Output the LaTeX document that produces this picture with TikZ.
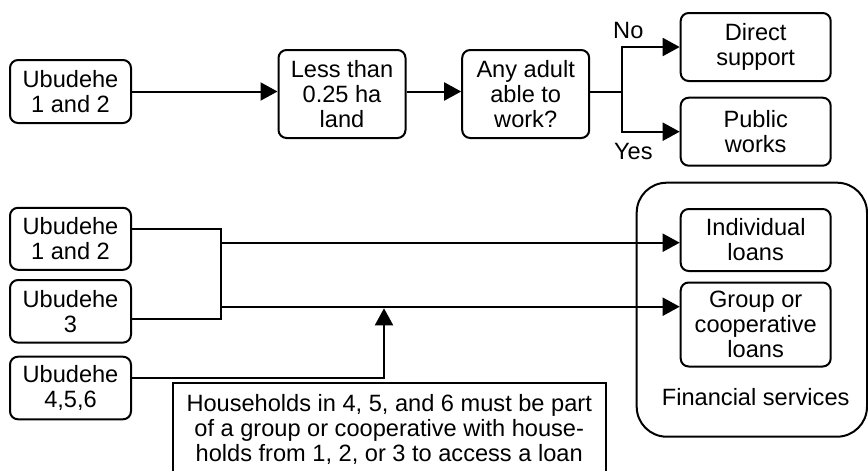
\documentclass[tikz,border=0pt]{standalone}
\usepackage{fontspec}
\setmainfont{Liberation Sans}
\usetikzlibrary{arrows.meta}

\tikzset{
  txt/.style={font=\fontsize{11.8}{12.5}\selectfont},
  box/.style={txt, draw, line width=1pt, rounded corners=4pt, align=center, inner sep=0pt},
  line/.style={line width=1pt},
  arr/.style={line, -{Triangle[length=8.5pt,width=9pt]}},
}

\begin{document}
\begin{tikzpicture}[x=0.5pt,y=-0.5pt]
        \useasboundingbox (0,0) rectangle (868,471);
        \clip (0,0) rectangle (868,471);

        % Draw top row
        \node[box, minimum width=60.5pt, minimum height=31.5pt] (ubA) at (70.5,91.5) {Ubudehe\\1 and 2};
        \node[box, minimum width=63.5pt, minimum height=44pt] (less) at (342,94) {Less than\\0.25 ha\\land};
        \node[box, minimum width=63.5pt, minimum height=44pt] (adult) at (525.7,94) {Any adult\\able to\\work?};
        \node[box, minimum width=75pt, minimum height=34pt] (direct) at (755.7,47) {Direct\\support};
        \node[box, minimum width=75pt, minimum height=34pt] (public) at (755.7,131.7) {Public\\works};
        \coordinate (split) at (621.7,91.5);

        % Draw top arrows
        \draw[arr] (ubA.east) -- (less.west |- ubA);
        \draw[arr] (less.east |- ubA) -- (adult.west |- ubA);
        \draw[line] (adult.east |- ubA) -- (split);
        \draw[arr] (split) |- (direct.west);
        \draw[arr] (split) |- (public.west);
        \node[txt] (no) at (628.3,30.7) {No};
        \node[txt] (yes) at (633.3,151.7) {Yes};

        % Draw financial services
        \node[draw, line width=1pt, rounded corners=15pt, minimum width=115.15pt, minimum height=127pt, inner sep=0pt] (fin) at (751.85,309.7) {};
        \node[txt] (finlabel) at (755.7,396.7) {Financial services};
        \node[box, minimum width=75pt, minimum height=31pt] (indiv) at (755.7,240) {Individual\\loans};
        \node[box, minimum width=75pt, minimum height=42pt] (group) at (755.7,324.5) {Group or\\cooperative\\loans};

        % Draw bottom row
        \node[box, minimum width=60.5pt, minimum height=31pt] (ubB) at (70.5,238.8) {Ubudehe\\1 and 2};
        \node[box, minimum width=60.5pt, minimum height=31.3pt] (ubC) at (70.5,311.3) {Ubudehe\\3};
        \node[box, minimum width=60.5pt, minimum height=31.3pt] (ubD) at (70.5,388) {Ubudehe\\4,5,6};
        \coordinate (bkTop) at (220.7,229.3);
        \coordinate (bkBot) at (220.7,319.3);
        \coordinate (jA) at (220.7,242.7);
        \coordinate (jB) at (220.7,306.7);
        \coordinate (up) at (384,308.3);

        % Draw bottom arrows
        \draw[line] ([yshift=4.75pt]ubB.east) -- (bkTop) -- (bkBot) -- ([yshift=-4pt]ubC.east);
        \draw[arr] (jA) -- (indiv.west |- jA);
        \draw[arr] (jB) -- (group.west |- jB);
        \draw[arr] ([yshift=4.85pt]ubD.east) -| (up);

        % Add note
        \node[txt, draw, line width=0.8pt, align=center, minimum width=216.5pt, minimum height=46pt, inner sep=0pt] (note) at (389.2,429)
          {Households in 4, 5, and 6 must be part\\of a group or cooperative with house-\\holds from 1, 2, or 3 to access a loan};
\end{tikzpicture}
\end{document}
